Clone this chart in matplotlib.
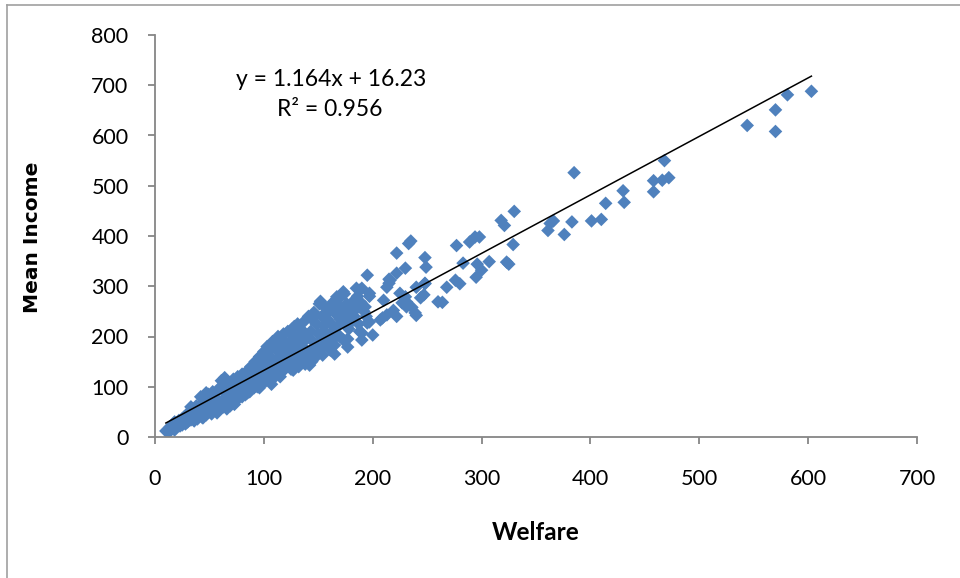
import matplotlib
matplotlib.use("Agg")
import matplotlib.pyplot as plt
from matplotlib.lines import Line2D
import numpy as np

plt.rcParams['font.family'] = ['Lato', 'DejaVu Sans']

# ---- data ----
sparse_welfare = [603, 581, 570, 570, 544, 468, 472, 466, 458, 458, 430, 431, 414, 410, 401,
                  385, 383, 376, 366, 363, 361, 330, 318, 321, 329, 323, 325,
                  294, 298, 289, 277, 235, 233, 222, 248, 249, 230, 195, 307, 296, 283, 300,
                  295, 276, 268, 264, 215, 248, 240, 230, 240, 236, 219, 222, 188, 197, 225,
                  210, 193, 182, 197, 213, 227, 216, 222, 173, 167, 190, 197, 239, 231, 209,
                  184, 179, 163, 177, 190, 200, 190, 173, 195, 207, 231, 260, 142, 127, 154,
                  165, 161, 185, 213, 215, 248, 247, 244, 280]
sparse_income = [688, 681, 651, 608, 620, 550, 516, 511, 510, 488, 490, 467, 465, 433, 430,
                 526, 428, 403, 430, 425, 411, 449, 431, 421, 383, 348, 344,
                 398, 398, 388, 381, 390, 385, 366, 357, 338, 336, 322, 349, 344, 346, 332,
                 318, 312, 298, 268, 314, 306, 298, 279, 242, 258, 252, 240, 292, 280, 286,
                 272, 259, 253, 229, 243, 267, 312, 326, 289, 279, 296, 286, 247, 259, 237,
                 253, 239, 253, 179, 193, 203, 207, 193, 227, 233, 269, 269, 143, 133, 163,
                 183, 173, 296, 298, 306, 305, 283, 277, 305]

dense_welfare = [10, 12, 13, 14, 15, 16, 17, 18, 19, 20, 21, 22, 18,
                 23, 24, 25, 26, 27, 28, 29, 30, 25, 28,
                 31, 32, 33, 34, 35, 36, 37, 38, 39, 40, 36, 33,
                 41, 42, 42, 43, 44, 45, 46, 47, 48, 49, 50, 47, 44,
                 51, 52, 53, 54, 55, 56, 57, 58, 59, 60, 52,
                 61, 62, 63, 64, 65, 66, 67, 68, 69, 70, 64, 66,
                 71, 72, 73, 74, 75, 76, 77, 78, 79, 80, 73, 80,
                 81, 82, 83, 84, 85, 86, 87, 88, 89, 90, 85, 88,
                 91, 92, 93, 94, 95, 96, 97, 98, 99, 100, 94, 96, 100, 98,
                 101, 102, 103, 104, 105, 106, 107, 108, 109, 110, 104, 108, 102, 106,
                 111, 112, 113, 114, 115, 116, 117, 118, 119, 120, 113, 116, 118,
                 121, 122, 123, 124, 125, 126, 127, 128, 129, 130, 125, 123, 128,
                 131, 132, 133, 134, 135, 136, 137, 138, 139, 140, 134, 138,
                 141, 142, 143, 144, 145, 146, 147, 148, 149, 150, 144, 148,
                 151, 152, 153, 154, 155, 156, 157, 158, 159, 160, 152, 156,
                 161, 162, 163, 164, 166, 167, 168, 169, 170, 165, 170,
                 171, 172, 174, 175, 176, 178, 180, 178, 182, 177, 180,
                 183, 185, 187, 189, 190, 192, 194, 186, 188]
dense_income = [12, 15, 10, 20, 17, 25, 22, 30, 18, 24, 28, 33, 14,
                22, 30, 36, 27, 40, 33, 45, 30, 24, 26,
                38, 50, 34, 43, 55, 40, 48, 62, 36, 52, 32, 60,
                45, 80, 58, 40, 68, 50, 75, 44, 60, 85, 52, 88, 38,
                70, 46, 90, 62, 55, 78, 48, 95, 66, 58, 82,
                112, 72, 60, 88, 100, 68, 80, 108, 62, 92, 118, 56,
                76, 115, 70, 98, 85, 120, 78, 105, 90, 125, 65, 80,
                95, 110, 84, 130, 100, 118, 90, 140, 105, 125, 88, 95,
                98, 150, 115, 135, 103, 160, 120, 140, 108, 170, 100, 98, 128, 155,
                150, 112, 180, 135, 118, 160, 105, 190, 145, 125, 170, 115, 130, 140,
                175, 138, 200, 158, 120, 185, 130, 205, 150, 170, 130, 145, 192,
                140, 210, 160, 190, 135, 215, 175, 150, 200, 165, 180, 145, 220,
                225, 140, 185, 160, 205, 148, 230, 175, 195, 155, 215, 145,
                240, 170, 210, 150, 190, 248, 165, 225, 180, 205, 235, 160,
                265, 175, 240, 195, 220, 258, 185, 235, 200, 250, 270, 210,
                228, 265, 210, 195, 245, 275, 220, 260, 235, 165, 200,
                280, 250, 285, 230, 265, 215, 255, 245, 270, 195, 228,
                240, 262, 225, 268, 258, 250, 240, 280, 210]

welfare = np.array(dense_welfare + sparse_welfare, dtype=float)
income = np.array(dense_income + sparse_income, dtype=float)

slope, intercept = 1.164, 16.23
eq_text = "y = 1.164x + 16.23"
r2_text = "R² = 0.956"

x_ticks = [0, 100, 200, 300, 400, 500, 600, 700]
y_ticks = [0, 100, 200, 300, 400, 500, 600, 700, 800]

# ---- figure ----
fig = plt.figure(figsize=(9.6, 5.78), dpi=100)
ax = fig.add_axes([155/960, 1 - 437/578, (917-155)/960, (437-35)/578])

blue = '#4F81BD'
ax.scatter(welfare, income, marker='D', s=48, color=blue, edgecolors='none', zorder=2)

xl = np.array([welfare.min(), welfare.max()])
ax.plot(xl, slope * xl + intercept, color='black', lw=1.1, zorder=3)

ax.set_xlim(0, 700)
ax.set_ylim(0, 800)
ax.set_xticks(x_ticks)
ax.set_yticks(y_ticks)

grey = '#868686'
for s in ['top', 'right']:
    ax.spines[s].set_visible(False)
for s in ['left', 'bottom']:
    ax.spines[s].set_color(grey)
    ax.spines[s].set_linewidth(1.3)
ax.tick_params(axis='both', direction='out', length=5, width=1.3, color=grey,
               labelsize=15.5, labelcolor='black')
ax.tick_params(axis='x', pad=18)
ax.tick_params(axis='y', pad=14)

fig.text(536/960, 1 - 533/578, 'Welfare', ha='center', va='center',
         fontsize=17.5, fontweight='bold')
fig.text(33/960, 1 - 237/578, 'Mean Income', ha='center', va='center', rotation=90,
         fontsize=14.5, fontweight='bold', family=['DejaVu Sans'])

ax.text(331/960, 1 - 80/578, eq_text, transform=fig.transFigure, ha='center', va='center', fontsize=16.5)
ax.text(330/960, 1 - 110/578, r2_text, transform=fig.transFigure, ha='center', va='center', fontsize=16.5)

# chart area border (left and top edges visible)
fig.add_artist(Line2D([7/960, 7/960], [0, 1 - 5/578], transform=fig.transFigure, color='#A0A0A0', lw=1.2))
fig.add_artist(Line2D([7/960, 1], [1 - 5/578, 1 - 5/578], transform=fig.transFigure, color='#A0A0A0', lw=1.2))

fig.savefig('out.png', dpi=100)
